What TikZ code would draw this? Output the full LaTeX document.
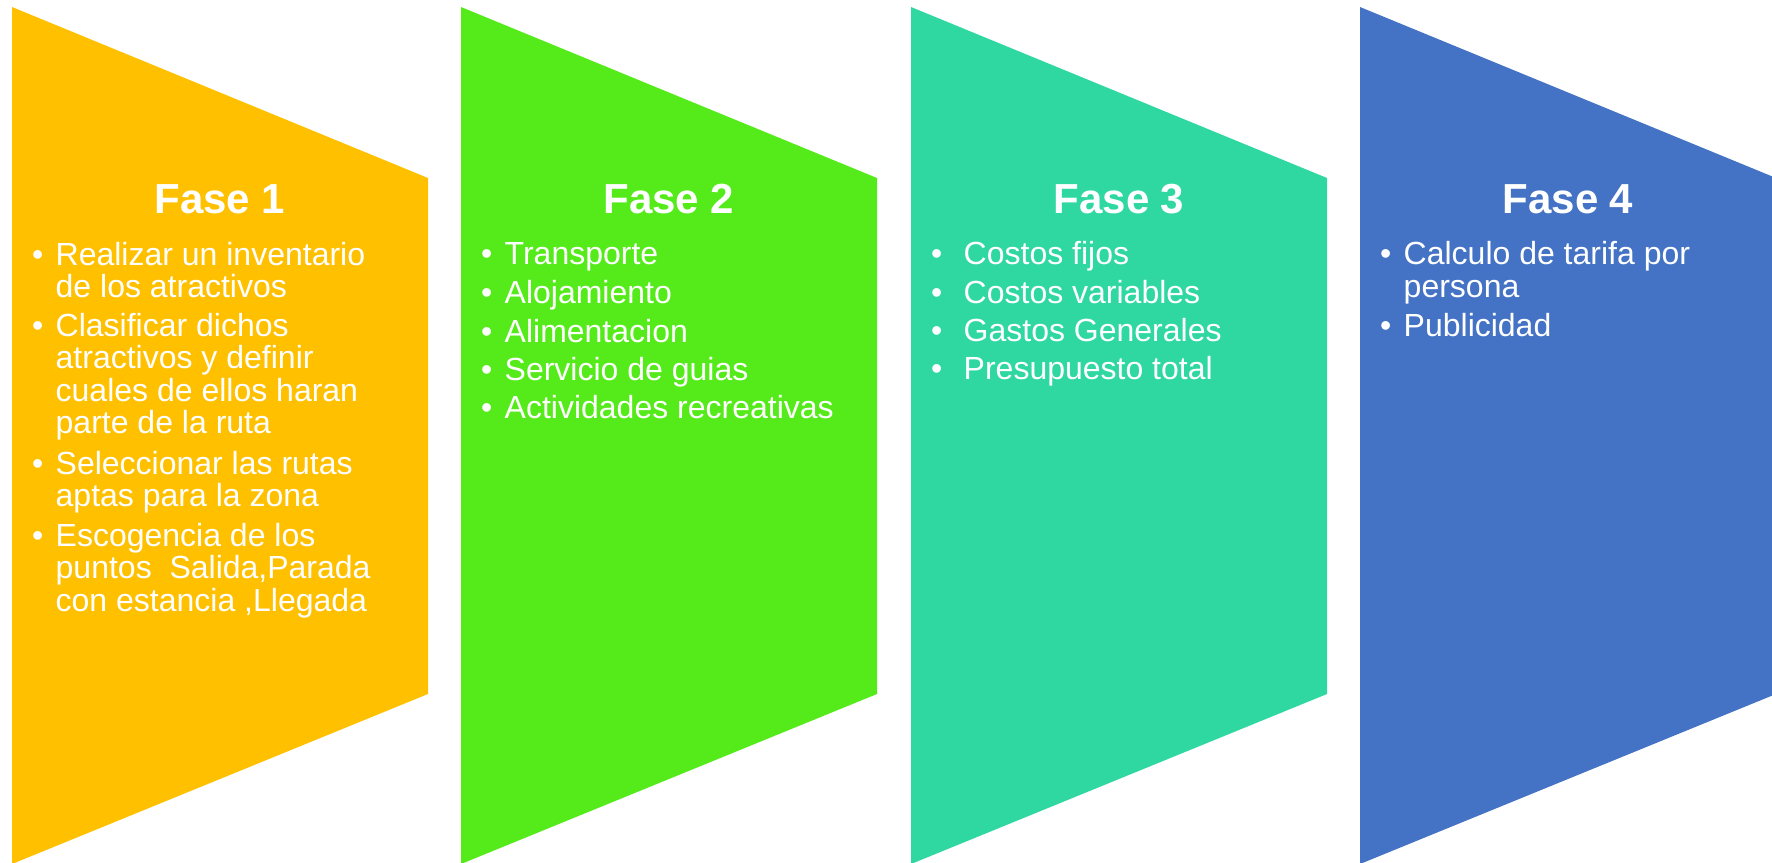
\documentclass[tikz,border=0pt]{standalone}
\usepackage{fontspec}
\setmainfont{Liberation Sans}
\usetikzlibrary{positioning}

\definecolor{colFaseA}{HTML}{FFC000}
\definecolor{colFaseB}{HTML}{55EB1A}
\definecolor{colFaseC}{HTML}{2FD7A1}
\definecolor{colFaseD}{HTML}{4472C4}

\tikzset{
  titulo/.style={font=\fontsize{42}{42}\selectfont\bfseries, text=white, inner sep=0pt, anchor=base},
  punto/.style={font=\fontsize{32}{32}\selectfont, text=white, inner sep=0pt, anchor=base west},
}

\begin{document}
\begin{tikzpicture}[x=1pt,y=-1pt]
        \clip (0,0) rectangle (1772,862);

        % the four panels
        \foreach \l/\col in {12/colFaseA,461/colFaseB,911/colFaseC,1360/colFaseD}
        \fill[\col] (\l,7) -- (\l+416,178) -- (\l+416,694) -- (\l,864) -- cycle;

        \node[titulo] (fase1) at (220,213) {Fase 1};
        \node[titulo] (fase2) at (669,213) {Fase 2};
        \node[titulo] (fase3) at (1119,213) {Fase 3};
        \node[titulo] (fase4) at (1568,213) {Fase 4};

        % Fase 1
        \foreach \y/\txt in {265/Realizar un inventario, 297.5/de los atractivos,
            336/Clasificar dichos, 368.5/atractivos y definir, 401/cuales de ellos haran,
            433.5/parte de la ruta, 474/Seleccionar las rutas, 506.5/aptas para la zona,
            546/Escogencia de los, 578.5/{puntos\ \ Salida,Parada}, 611/{con estancia ,Llegada}}
        \node[punto] at (55.5,\y) {\txt};
        \foreach \y in {265,336,474,546}
        \node[punto] at (32,\y) {•};

        % Fase 2
        \foreach \y/\txt in {264/Transporte, 303/Alojamiento, 342/Alimentacion,
            380/Servicio de guias, 418/Actividades recreativas} {
        \node[punto] at (504.5,\y) {\txt};
        \node[punto] at (481,\y) {•};
        }

        % Fase 3
        \foreach \y/\txt in {264/Costos fijos, 303/Costos variables, 341/Gastos Generales,
            379/Presupuesto total} {
        \node[punto] at (963.5,\y) {\txt};
        \node[punto] at (931,\y) {•};
        }

        % Fase 4
        \node[punto] (calculo) at (1403.5,264) {Calculo de tarifa por};
        \node[punto] (persona) at (1403.5,297) {persona};
        \node[punto] (publi) at (1403.5,336) {Publicidad};
        \foreach \y in {264,336}
        \node[punto] at (1380,\y) {•};
\end{tikzpicture}
\end{document}
